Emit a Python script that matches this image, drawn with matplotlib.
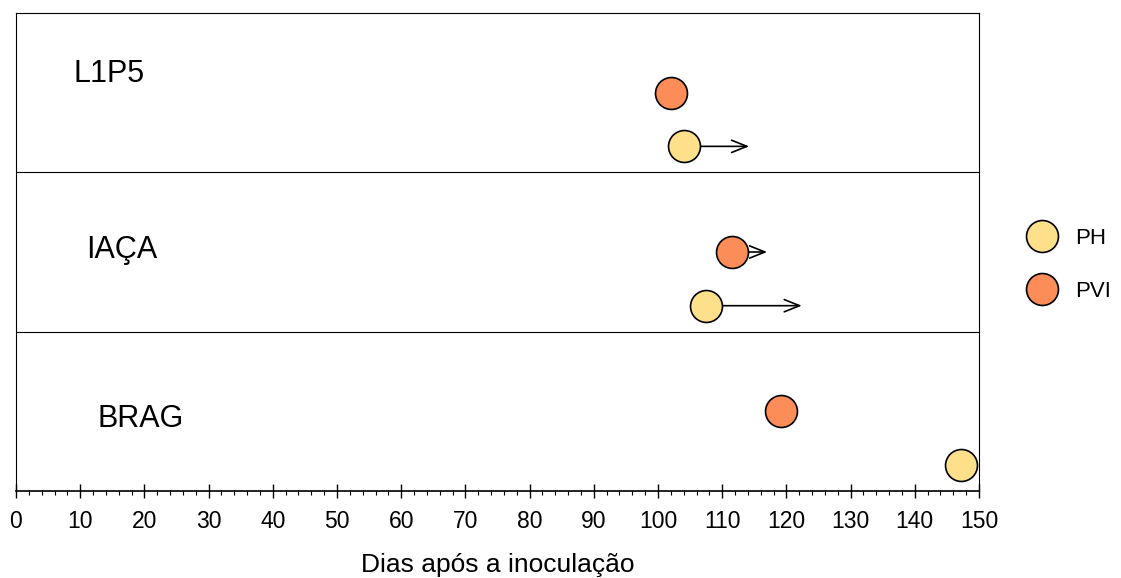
import matplotlib.pyplot as plt
from matplotlib.lines import Line2D
from matplotlib.ticker import MultipleLocator

plt.rcParams['font.family'] = ['Liberation Sans', 'DejaVu Sans']

# --- DATA ---
genotypes = ["L1P5", "IAÇA", "BRAG"]
ph_days = [104, 107.5, 147.2]
pvi_days = [102, 111.5, 119.2]
# arrow end (None = no arrow)
ph_arrow_end = [114.2, 122.4, None]
pvi_arrow_end = [None, 117.0, None]

ph_color = "#FEE08B"
pvi_color = "#FC8D59"

fig = plt.figure(figsize=(11.21, 5.78), dpi=100)
ax = fig.add_axes([16 / 1121, 1 - 491 / 578, (979 - 16) / 1121, (491 - 13) / 578])

n = len(genotypes)
for i, g in enumerate(genotypes):
    base = n - 1 - i  # top panel first
    y_pvi = base + 0.50
    y_ph = base + 0.163
    label_y = [0.62, 0.51, 0.45][i]
    label_x = [9, 11, 12.7][i]
    ax.text(label_x, base + label_y, g, fontsize=22, ha="left", va="center")

    if ph_arrow_end[i] is not None:
        ax.annotate("", xy=(ph_arrow_end[i], y_ph), xytext=(ph_days[i], y_ph),
                    arrowprops=dict(arrowstyle="->,head_length=0.5,head_width=0.2", color="black", lw=1.2,
                                    mutation_scale=22, shrinkA=0, shrinkB=0),
                    zorder=2)
    if pvi_arrow_end[i] is not None:
        ax.annotate("", xy=(pvi_arrow_end[i], y_pvi), xytext=(pvi_days[i], y_pvi),
                    arrowprops=dict(arrowstyle="->,head_length=0.5,head_width=0.2", color="black", lw=1.2,
                                    mutation_scale=22, shrinkA=0, shrinkB=0),
                    zorder=2)

    ax.plot(pvi_days[i], y_pvi, "o", ms=23, mfc=pvi_color, mec="black", mew=1.2, zorder=3)
    ax.plot(ph_days[i], y_ph, "o", ms=23, mfc=ph_color, mec="black", mew=1.2, zorder=3)

for yl in range(1, n):
    ax.axhline(yl, color="black", lw=0.8)

ax.set_xlim(0, 150)
ax.set_ylim(0, n)
ax.set_yticks([])
ax.xaxis.set_major_locator(MultipleLocator(10))
ax.xaxis.set_minor_locator(MultipleLocator(2))
ax.tick_params(axis="x", which="major", direction="inout", length=10, width=1, labelsize=16.5, pad=9)
ax.tick_params(axis="x", which="minor", direction="out", length=3, width=0.8)
for s in ax.spines.values():
    s.set_linewidth(0.8)
ax.spines["bottom"].set_linewidth(1.2)
ax.set_xlabel("Dias após a inoculação", fontsize=19, labelpad=14)

handles = [
    Line2D([], [], ls="none", marker="o", ms=23, mfc=ph_color, mec="black", mew=1.2),
    Line2D([], [], ls="none", marker="o", ms=23, mfc=pvi_color, mec="black", mew=1.2),
]
fig.legend(handles, ["PH", "PVI"], loc="center left", bbox_to_anchor=(1000 / 1121, 1 - 265 / 578),
           frameon=False, fontsize=16, labelspacing=1.45, handletextpad=0.5)

fig.savefig("out.png", dpi=100)
